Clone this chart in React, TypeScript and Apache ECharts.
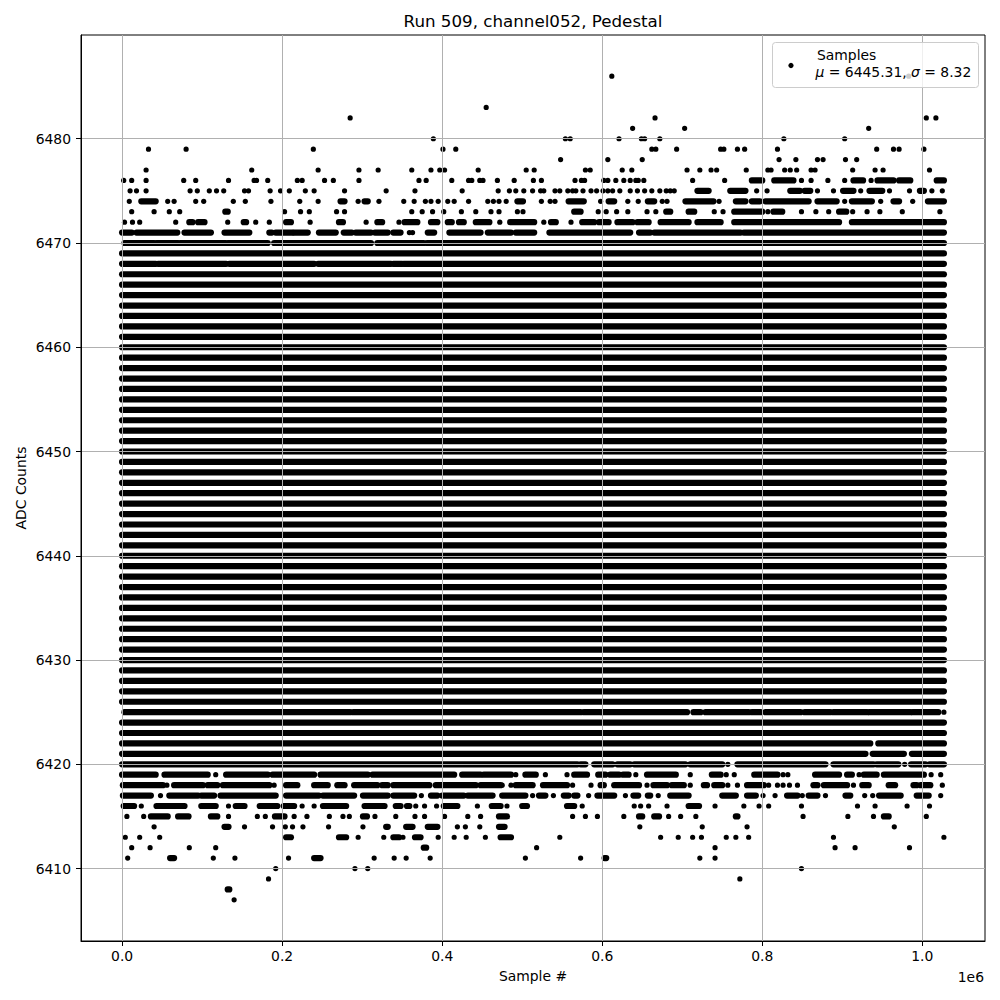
import React, { useEffect, useRef } from 'react';
import * as echarts from 'echarts';

// ---------- texts ----------
const TITLE = 'Run 509, channel052, Pedestal';
const X_LABEL = 'Sample #';
const Y_LABEL = 'ADC Counts';
const X_OFFSET_LABEL = '1e6';
const LEGEND_NAME = 'Samples';
const LEGEND_MU = '6445.31';
const LEGEND_SIGMA = '8.32';

// ---------- ticks ----------
const xTicks = [0, 200000, 400000, 600000, 800000, 1000000];
const yTicks = [6410, 6420, 6430, 6440, 6450, 6460, 6470, 6480];

// ---------- data (sample positions in thousands of samples) ----------
const FIRST_SAMPLE_K = 0;
const LAST_SAMPLE_K = 1027;

// ADC levels occupied over the whole run (samples merge into solid rows)
const solidLevels = [
  6423, 6424, 6426, 6427, 6428, 6429, 6430, 6431, 6432, 6433, 6434, 6435, 6436,
  6437, 6438, 6439, 6440, 6441, 6442, 6443, 6444, 6445, 6446, 6447, 6448, 6449,
  6450, 6451, 6452, 6453, 6454, 6455, 6456, 6457, 6458, 6459, 6460, 6461, 6462,
  6463, 6464, 6465, 6466, 6467, 6469,
];

type Run = number | [number, number];

// single samples (number) or runs of adjacent samples ([start, end]) per ADC level
const adc6486: Run[] = [612, 983];
const adc6483: Run[] = [455];
const adc6482: Run[] = [285, 666, 1005, 1017];
const adc6481: Run[] = [638, 703, 933];
const adc6480: Run[] = [389, 554, 560, 621, 649, 653, 672, 827, 903];
const adc6479: Run[] = [33, 80, 239, 401, 417, 662, 667, 693, 748, 752, 769, 778, 819, 943, 964, 971, 1002];
const adc6478: Run[] = [548, 607, 650, 821, 842, 869, 876, 904, 918];
const adc6477: Run[] = [30, 162, 245, 296, 320, 362, 386, 397, 403, 445, 505, 515, 579, 585, 625, 637, 706, 722, 736, 743, 780, 807, 811, 828, 835, 843, 861, 866, 913, 941, 951, 1009];
const adc6476: Run[] = [2, 12, 30, 77, 92, 133, 165, 168, 182, 219, 225, 253, 264, 296, 371, 380, 412, 433, 437, 447, 451, 469, 490, 514, 524, 566, 574, 578, 602, 607, 617, 627, 635, 642, 645, 652, 713, 753, [787, 800], [815, 839], 849, 861, 882, 903, [914, 926], 936, [944, 964], [971, 985], [1018, 1027]];
const adc6475: Run[] = [10, 18, 30, 85, 94, 109, 118, 127, 153, 158, 185, 198, 209, 229, 240, 278, 330, 366, 425, 470, 484, 492, 502, 513, 523, 527, 541, 547, 557, 563, 567, 576, 586, 593, 601, 607, 613, 622, 635, 644, 653, 662, 672, 680, 685, 690, [719, 733], [760, 779], 793, 806, [835, 847], [853, 860], 869, 889, [901, 914], 923, [934, 950], 959, 984, [997, 1002], 1012, 1025];
const adc6474: Run[] = [9, [24, 42], 57, 65, 92, 102, 139, 154, 186, 222, 245, [273, 278], 295, [303, 307], 321, 352, 365, 379, 386, 395, 407, 415, 433, 457, 464, 471, 480, [494, 501], 524, 535, 541, [558, 577], 598, [608, 615], 632, 645, [657, 665], 675, 681, [704, 739], 746, [767, 779], [787, 797], [804, 858], [869, 893], 903, [912, 937], 948, [964, 971], 988, [1007, 1027]];
const adc6473: Run[] = [12, 40, 59, 72, [129, 132], 203, 223, 234, 268, 278, 362, 375, 388, 402, 424, 442, 461, 471, 494, 501, [565, 573], 595, 605, 618, 632, 656, 667, [680, 685], [708, 715], 740, 751, [765, 800], 807, [814, 825], 849, 867, 883, [896, 905], 913, 931, 947, 975, 1022];
const adc6472: Run[] = [3, 13, 22, 67, [84, 88], [95, 103], 132, [152, 155], 167, 184, [205, 211], 235, [271, 276], 305, [319, 325], 346, [353, 369], [386, 394], [407, 412], [421, 427], [442, 459], 472, [485, 515], 527, [536, 542], 561, [575, 590], [596, 608], [619, 638], [644, 658], [673, 708], [719, 748], [765, 896], [912, 1027]];
const adc6471: Run[] = [[0, 12], [18, 69], [78, 111], [128, 159], [184, 187], [192, 213], [215, 232], [246, 267], [277, 287], [292, 311], [316, 332], [339, 348], 359, 363, [382, 390], [409, 448], [457, 486], [492, 515], [534, 635], [646, 660], [665, 773], [777, 1027]];
const adc6470: Run[] = [[3, 40], [43, 70], [73, 129], [132, 182], [190, 234], [236, 311], [319, 377], [381, 446], [448, 527], [529, 1027]];
const adc6468: Run[] = [[0, 42], [45, 130], [134, 240], [245, 336], [339, 350], [352, 1027]];
const adc6425: Run[] = [[3, 285], [289, 573], [577, 597], [600, 706], [714, 723], [729, 783], [787, 798], [804, 848], [853, 885], [889, 931], [934, 985], [988, 1020], 1027];
const adc6422: Run[] = [[0, 935], [945, 1027]];
const adc6421: Run[] = [[0, 929], [938, 977], [987, 1027]];
const adc6420: Run[] = [[0, 569], [573, 579], [590, 613], [619, 635], [640, 704], [710, 750], 757, [769, 879], [889, 939], [943, 970], 978, [986, 1004], [1009, 1027]];
const adc6419: Run[] = [[0, 42], [53, 107], 117, [130, 182], [188, 240], [248, 307], [313, 415], [425, 448], [452, 486], 492, [504, 517], 529, 556, [565, 581], [595, 604], [610, 621], [626, 633], 642, [656, 692], 710, [737, 748], 755, 765, [790, 819], 826, 832, [866, 896], [906, 912], 921, [927, 943], [952, 1002], 1011, 1023];
const adc6418: Run[] = [[1, 51], 56, [65, 101], [107, 119], [126, 184], 190, [205, 219], [240, 257], [269, 278], [290, 319], [325, 332], [339, 384], [392, 442], [448, 473], 475, 486, [492, 513], [526, 556], 563, 586, [598, 602], [615, 646], 656, [664, 681], [687, 702], 710, [727, 731], [740, 750], 757, 769, [781, 802], 808, 819, 826, 834, 844, [864, 869], [877, 906], 914, [925, 933], [958, 966], [989, 993], [998, 1010], 1025];
const adc6417: Run[] = [[1, 36], 48, [59, 95], [99, 115], [123, 192], [205, 246], [251, 290], [301, 332], [339, 365], 374, [386, 394], [400, 427], [432, 463], [475, 504], 513, [521, 529], 539, [552, 558], [565, 569], 583, [594, 615], 629, [639, 645], [657, 660], 670, [685, 708], [750, 767], [781, 792], 801, 816, [831, 844], 850, [858, 869], 879, [904, 910], 928, 938, [946, 973], [993, 1008], 1023];
const adc6416: Run[] = [[2, 15], 24, [43, 78], [99, 117], 133, [142, 153], [172, 194], [202, 215], 225, 240, [251, 280], [303, 328], [342, 348], [356, 359], 367, 378, 393, [402, 419], 444, [462, 473], 481, [500, 506], [556, 565], 575, 640, 648, 658, 681, [708, 721], 741, 777, 796, 808, 849, 919, 941, 981, 1009];
const adc6415: Run[] = [6, 27, [36, 57], [70, 83], [111, 119], 133, 169, 179, [191, 203], 215, 231, 259, 276, 284, [301, 306], 316, 342, 366, 378, 403, 432, 448, [471, 481], 563, 579, 594, 627, [646, 650], [665, 671], 683, 698, 717, [767, 769], 851, 907, 939, [952, 958], 1005];
const adc6414: Run[] = [40, [128, 133], 153, 188, 204, 213, 226, 258, 301, [330, 332], [355, 363], [382, 394], 419, 429, 447, [471, 478], 647, 725, 781, 965];
const adc6413: Run[] = [4, 22, 47, [205, 211], [271, 280], 295, 327, [339, 346], 351, [366, 373], 395, 415, 430, 454, [473, 486], 547, 673, 695, 713, 724, 755, 767, 783, 889, 1027];
const adc6412: Run[] = [12, 35, 84, 117, [377, 380], 518, 741, 891, 916, 984];
const adc6411: Run[] = [7, [60, 65], 114, 141, 208, [240, 248], 315, 340, 355, 385, 504, 573, [603, 605], 722, 741];
const adc6410: Run[] = [192, 291, 307, 849];
const adc6409: Run[] = [183, 772];
const adc6408: Run[] = [[132, 134]];
const adc6407: Run[] = [140];

const partialLevels: [number, Run[]][] = [
  [6486, adc6486], [6483, adc6483], [6482, adc6482], [6481, adc6481], [6480, adc6480],
  [6479, adc6479], [6478, adc6478], [6477, adc6477], [6476, adc6476], [6475, adc6475],
  [6474, adc6474], [6473, adc6473], [6472, adc6472], [6471, adc6471], [6470, adc6470],
  [6468, adc6468], [6425, adc6425], [6422, adc6422], [6421, adc6421], [6420, adc6420],
  [6419, adc6419], [6418, adc6418], [6417, adc6417], [6416, adc6416], [6415, adc6415],
  [6414, adc6414], [6413, adc6413], [6412, adc6412], [6411, adc6411], [6410, adc6410],
  [6409, adc6409], [6408, adc6408], [6407, adc6407],
];

// axis limits (matplotlib-like 5% margins around the data)
const X_MIN = -51350;
const X_MAX = 1078350;
const Y_MIN = 6403.05;
const Y_MAX = 6489.95;

function buildData(): number[][] {
  const out: number[][] = [];
  for (const lv of solidLevels) out.push([FIRST_SAMPLE_K * 1000, LAST_SAMPLE_K * 1000, lv]);
  for (const [lv, runs] of partialLevels) {
    for (const r of runs) {
      const a = typeof r === 'number' ? r : r[0];
      const b = typeof r === 'number' ? r : r[1];
      out.push([a * 1000, b * 1000, lv]);
    }
  }
  return out;
}

const FONT = 'DejaVu Sans';

export default function App() {
  const ref = useRef<HTMLDivElement>(null);
  useEffect(() => {
    if (!ref.current) return;
    const chart = echarts.init(ref.current, undefined, { renderer: 'svg' });
    const data = buildData();
    const axisCommon = {
      type: 'value' as const,
      z: 10,
      axisLine: { show: true, onZero: false, lineStyle: { color: '#000', width: 1 } },
      splitLine: { show: true, lineStyle: { color: '#b0b0b0', width: 1 } },
    };
    chart.setOption({
      animation: false,
      backgroundColor: '#ffffff',
      grid: {
        left: 81, right: 15, top: 35, bottom: 59,
        show: true, borderColor: '#000', borderWidth: 1, backgroundColor: 'transparent',
      },
      xAxis: {
        ...axisCommon,
        min: X_MIN,
        max: X_MAX,
        axisTick: { show: true, length: 5, inside: false, customValues: xTicks, lineStyle: { color: '#000', width: 1 } },
        axisLabel: {
          show: true, customValues: xTicks, margin: 8,
          formatter: (v: number) => (v / 1e6).toFixed(1),
          color: '#000', fontFamily: FONT, fontSize: 13.9,
        },
      },
      yAxis: {
        ...axisCommon,
        min: Y_MIN,
        max: Y_MAX,
        axisTick: { show: true, length: 5, inside: false, customValues: yTicks, lineStyle: { color: '#000', width: 1 } },
        axisLabel: {
          show: true, customValues: yTicks, margin: 10,
          formatter: (v: number) => String(Math.round(v)),
          color: '#000', fontFamily: FONT, fontSize: 13.9,
        },
      },
      series: [
        {
          type: 'custom',
          name: LEGEND_NAME,
          coordinateSystem: 'cartesian2d',
          data,
          encode: { x: [0, 1], y: 2 },
          z: 2,
          renderItem: (params: any, api: any) => {
            const lv = api.value(2);
            const a = api.coord([api.value(0), lv]);
            const b = api.coord([api.value(1), lv]);
            const len = b[0] - a[0];
            const h = len > 0.5 ? 6.2 : 5.2;
            const r = h / 2;
            return {
              type: 'rect',
              shape: { x: a[0] - r, y: a[1] - r, width: len + h, height: h, r },
              style: { fill: '#000' },
            };
          },
        },
      ],
      graphic: [
        {
          type: 'text', x: 533, y: 21, z: 100,
          style: { text: TITLE, fill: '#000', fontFamily: FONT, fontSize: 16.7, textAlign: 'center', textVerticalAlign: 'middle' },
        },
        {
          type: 'text', x: 533, y: 976, z: 100,
          style: { text: X_LABEL, fill: '#000', fontFamily: FONT, fontSize: 13.9, textAlign: 'center', textVerticalAlign: 'middle' },
        },
        {
          type: 'text', x: 20.5, y: 488, rotation: Math.PI / 2, z: 100,
          style: { text: Y_LABEL, fill: '#000', fontFamily: FONT, fontSize: 13.9, textAlign: 'center', textVerticalAlign: 'middle' },
        },
        {
          type: 'text', x: 984, y: 977, z: 100,
          style: { text: X_OFFSET_LABEL, fill: '#000', fontFamily: FONT, fontSize: 13.9, textAlign: 'right', textVerticalAlign: 'middle' },
        },
        {
          type: 'rect', z: 100,
          shape: { x: 772.5, y: 42.5, width: 206, height: 45, r: 3 },
          style: { fill: 'rgba(255,255,255,0.8)', stroke: '#cccccc', lineWidth: 1 },
        },
        {
          type: 'circle', z: 101,
          shape: { cx: 791, cy: 65.5, r: 2.6 },
          style: { fill: '#000' },
        },
        {
          type: 'text', x: 817, y: 54.5, z: 101,
          style: { text: LEGEND_NAME, fill: '#000', fontFamily: FONT, fontSize: 13.9, textAlign: 'left', textVerticalAlign: 'middle' },
        },
        {
          type: 'text', x: 815.5, y: 71.7, z: 101,
          style: {
            text: `{i|μ}{n| = ${LEGEND_MU}, }{i|σ}{n| = ${LEGEND_SIGMA}}`,
            fill: '#000', fontFamily: FONT, fontSize: 13.9, textAlign: 'left', textVerticalAlign: 'middle',
            rich: {
              i: { fontStyle: 'italic', fontFamily: FONT, fontSize: 13.9, fill: '#000' },
              n: { fontFamily: FONT, fontSize: 13.9, fill: '#000' },
            },
          },
        },
      ],
    });
    return () => chart.dispose();
  }, []);
  return (
    <div
      ref={ref}
      style={{ position: 'absolute', left: 0, top: 0, width: 1000, height: 1000, background: '#fff' }}
    />
  );
}
